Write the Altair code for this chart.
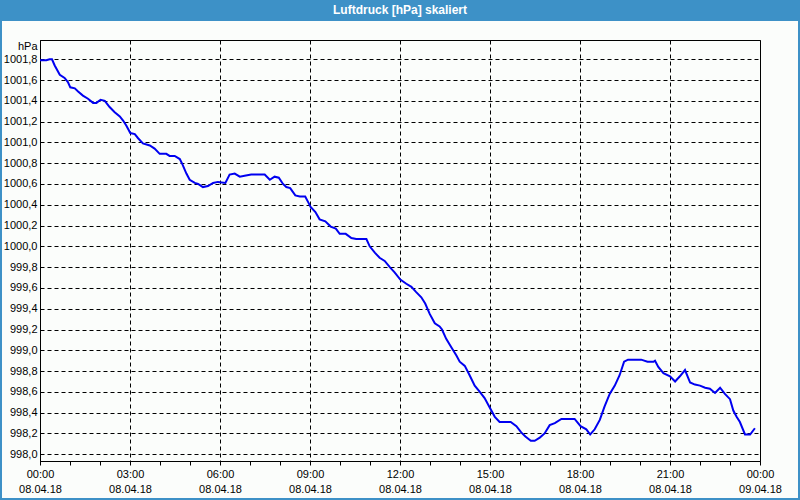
import json
import altair as alt
import pandas as pd

TITLE = "Luftdruck [hPa] skaliert"
Y_UNIT = "hPa"

# time in hours since 08.04.18 00:00
hours = [0.00, 0.21, 0.32, 0.40, 0.49, 0.66, 0.82, 0.93, 1.01, 1.16, 1.27, 1.43, 1.60, 1.77,
         1.88, 2.02, 2.16, 2.32, 2.49, 2.66, 2.77, 2.88, 3.01, 3.16, 3.27, 3.43, 3.66, 3.82,
         3.99, 4.21, 4.32, 4.49, 4.66, 4.73, 4.88, 4.99, 5.16, 5.27, 5.43, 5.60, 5.77, 5.93,
         6.18, 6.32, 6.49, 6.66, 6.82, 7.04, 7.21, 7.49, 7.66, 7.82, 7.96, 8.10, 8.21, 8.34,
         8.51, 8.66, 8.84, 8.93, 9.02, 9.18, 9.32, 9.51, 9.69, 9.86, 9.99, 10.19, 10.38, 10.54,
         10.88, 10.99, 11.16, 11.32, 11.49, 11.66, 11.82, 12.01, 12.21, 12.38, 12.54, 12.71,
         12.84, 12.99, 13.16, 13.32, 13.40, 13.54, 13.71, 13.88, 13.99, 14.16, 14.32, 14.49,
         14.66, 14.82, 14.99, 15.16, 15.32, 15.69, 15.88, 16.04, 16.18, 16.36, 16.49, 16.66,
         16.82, 16.99, 17.16, 17.38, 17.82, 18.02, 18.21, 18.34, 18.49, 18.66, 18.82, 18.99,
         19.16, 19.32, 19.47, 19.60, 20.04, 20.25, 20.45, 20.50, 20.61, 20.78, 21.00, 21.17,
         21.33, 21.50, 21.67, 21.83, 22.00, 22.17, 22.33, 22.50, 22.67, 22.83, 23.00, 23.11,
         23.22, 23.33, 23.50, 23.67, 23.83]

pressure = [1001.79, 1001.79, 1001.80, 1001.80, 1001.74, 1001.65, 1001.62, 1001.58, 1001.53,
            1001.52, 1001.49, 1001.45, 1001.42, 1001.38, 1001.38, 1001.41, 1001.40, 1001.34,
            1001.29, 1001.25, 1001.21, 1001.16, 1001.09, 1001.08, 1001.04, 1000.99, 1000.97,
            1000.94, 1000.89, 1000.89, 1000.87, 1000.87, 1000.84, 1000.80, 1000.70, 1000.64,
            1000.61, 1000.60, 1000.57, 1000.58, 1000.61, 1000.62, 1000.61, 1000.69, 1000.70,
            1000.67, 1000.68, 1000.69, 1000.69, 1000.69, 1000.64, 1000.67, 1000.66, 1000.60,
            1000.57, 1000.56, 1000.49, 1000.48, 1000.48, 1000.43, 1000.38, 1000.33, 1000.26,
            1000.24, 1000.19, 1000.17, 1000.12, 1000.12, 1000.08, 1000.07, 1000.07, 1000.00,
            999.94, 999.89, 999.86, 999.80, 999.75, 999.68, 999.64, 999.61, 999.56, 999.51,
            999.45, 999.35, 999.26, 999.23, 999.20, 999.11, 999.03, 998.95, 998.89, 998.85,
            998.76, 998.66, 998.60, 998.54, 998.45, 998.36, 998.31, 998.31, 998.27, 998.21,
            998.17, 998.13, 998.13, 998.16, 998.20, 998.28, 998.30, 998.34, 998.34, 998.27,
            998.24, 998.19, 998.24, 998.33, 998.46, 998.58, 998.66, 998.76, 998.89, 998.91,
            998.91, 998.89, 998.89, 998.90, 998.84, 998.78, 998.75, 998.70, 998.75, 998.81,
            998.69, 998.67, 998.66, 998.64, 998.63, 998.59, 998.64, 998.58, 998.53, 998.42,
            998.36, 998.31, 998.19, 998.19, 998.25]

y_ticks = [round(998.0 + 0.2 * i, 1) for i in range(20)]
x_ticks = list(range(0, 25))
time_labels = ["00:00", "03:00", "06:00", "09:00", "12:00", "15:00", "18:00", "21:00", "00:00"]
date_labels = ["08.04.18", "08.04.18", "08.04.18", "08.04.18", "08.04.18",
               "08.04.18", "08.04.18", "08.04.18", "09.04.18"]

df = pd.DataFrame({"h": hours, "p": pressure})
title_df = pd.DataFrame({"t": [TITLE]})

W, H = 720, 421
BLUE = "#3d91c7"
FONT = "Liberation Sans"

tl = json.dumps(time_labels)
dl = json.dumps(date_labels)
x_label_expr = (f"datum.value % 3 === 0 ? [{tl}[datum.value / 3], {dl}[datum.value / 3]] : ''")

x_axis = alt.Axis(
    values=x_ticks, title=None, grid=True, gridColor="black", gridDash=[4, 3],
    gridOpacity={"condition": {"test": "datum.value % 3 === 0", "value": 1}, "value": 0},
    labelExpr=x_label_expr, labelFont=FONT, labelFontSize=11, labelColor="black",
    labelLineHeight=15, labelPadding=3, tickSize=4, tickColor="black",
    domainColor="black", labelOverlap=False, labelFlush=False, labelBound=False,
)
y_axis = alt.Axis(
    values=y_ticks, title=Y_UNIT, titleAngle=0, titleX=-3, titleY=6, titleAlign="right",
    titleBaseline="middle", titleFont=FONT, titleFontSize=11, titleFontWeight="normal",
    titleColor="black", labelExpr="replace(format(datum.value, '.1f'), '.', ',')",
    labelFont=FONT, labelFontSize=11, labelColor="black", ticks=False, labelPadding=3,
    grid=True, gridColor="black", gridDash=[4, 3], domainColor="black",
    labelOverlap=False, labelBound=False, labelFlush=False,
)

line = alt.Chart(df).mark_line(color="#0000f0", strokeWidth=2).encode(
    x=alt.X("h:Q", scale=alt.Scale(domain=[0, 24], nice=False, zero=False), axis=x_axis),
    y=alt.Y("p:Q", scale=alt.Scale(domain=[997.935, 1001.985], nice=False, zero=False), axis=y_axis),
)

bar = alt.Chart(title_df).mark_rect(color=BLUE).encode(
    x=alt.value(-40), x2=alt.value(760), y=alt.value(-40), y2=alt.value(-19.5)
)
title_text = alt.Chart(title_df).mark_text(
    font=FONT, fontSize=12, fontWeight="bold", color="white", align="center", baseline="middle"
).encode(x=alt.value(360), y=alt.value(-30), text="t:N")
border = alt.Chart(title_df).mark_rect(fillOpacity=0, stroke=BLUE, strokeWidth=2).encode(
    x=alt.value(-39), x2=alt.value(759), y=alt.value(-20), y2=alt.value(459)
)

chart = alt.layer(bar, border, title_text, line).properties(
    width=W, height=H, autosize="none",
    padding={"left": 40, "top": 40, "right": 40, "bottom": 39},
    background="#fbfdfb",
).configure_view(stroke="black", strokeWidth=1)

chart.save("out.html", embed_options={"renderer": "svg", "actions": False})
